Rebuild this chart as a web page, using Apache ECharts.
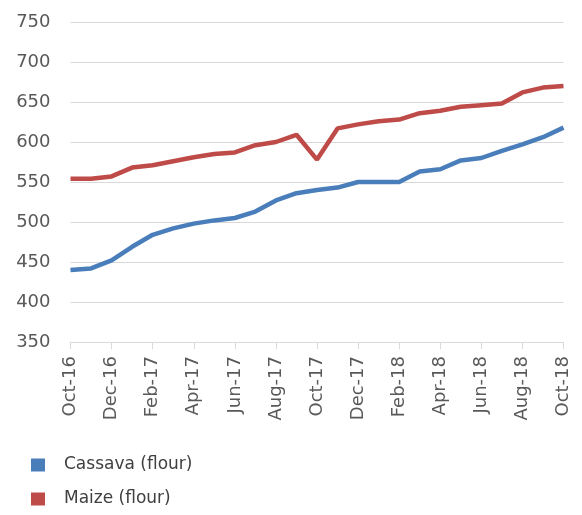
<!DOCTYPE html>
<html>
<head>
<meta charset="utf-8">
<script src="https://cdn.jsdelivr.net/npm/echarts@6/dist/echarts.min.js"></script>
<style>
  html, body { margin: 0; padding: 0; background: #fff; }
  #chart { width: 582px; height: 515px; }
</style>
</head>
<body>
<div id="chart"></div>
<script>
// Monthly prices, Oct-16 .. Oct-18
const months = ['Oct-16', 'Nov-16', 'Dec-16', 'Jan-17', 'Feb-17', 'Mar-17', 'Apr-17', 'May-17', 'Jun-17',
    'Jul-17', 'Aug-17', 'Sep-17', 'Oct-17', 'Nov-17', 'Dec-17', 'Jan-18', 'Feb-18', 'Mar-18', 'Apr-18',
    'May-18', 'Jun-18', 'Jul-18', 'Aug-18', 'Sep-18', 'Oct-18'];
const cassava = [440, 442, 452, 469, 484, 492, 498, 502, 505, 513, 527, 536, 540, 543, 550, 550, 550, 563, 566, 577, 580, 589, 597, 606, 618];
const maize = [554, 554, 557, 568, 571, 576, 581, 585, 587, 596, 600, 609, 578, 617, 622, 626, 628, 636, 639, 644, 646, 648, 662, 668, 670];
const seriesNames = ['Cassava (flour)', 'Maize (flour)'];
const seriesColors = ['#4A7EBB', '#BE4B48'];

document.addEventListener('DOMContentLoaded', function() {
    const chart = echarts.init(document.getElementById('chart'));
    const font = '"DejaVu Sans", sans-serif';

    chart.setOption({
        animation: false,
        color: seriesColors,
        grid: { left: 70.5, right: 18.5, top: 22, bottom: 173 },
        legend: {
            orient: 'vertical',
            left: 31,
            top: 456,
            padding: 0,
            icon: 'rect',
            itemWidth: 14,
            itemHeight: 13,
            itemGap: 16,
            data: seriesNames,
            textStyle: { fontFamily: font, fontSize: 17, lineHeight: 18, color: '#404040', padding: [0, 0, 0, 14] }
        },
        xAxis: {
            type: 'category',
            data: months,
            boundaryGap: false,
            axisLine: { lineStyle: { color: '#d9d9d9' } },
            axisTick: { interval: 1, length: 7, lineStyle: { color: '#d9d9d9' } },
            axisLabel: {
                interval: 1,
                rotate: 90,
                margin: 14,
                fontFamily: font,
                fontSize: 18,
                color: '#595959'
            }
        },
        yAxis: {
            type: 'value',
            min: 350,
            max: 750,
            interval: 50,
            axisLine: { show: false },
            axisTick: { show: false },
            splitLine: { lineStyle: { color: '#d9d9d9' } },
            axisLabel: { fontFamily: font, fontSize: 18, color: '#595959', margin: 20 }
        },
        series: [
            {
                name: seriesNames[0],
                type: 'line',
                data: cassava,
                showSymbol: false,
                lineStyle: { width: 4.5 }
            },
            {
                name: seriesNames[1],
                type: 'line',
                data: maize,
                showSymbol: false,
                lineStyle: { width: 4.5 }
            }
        ]
    });
});
</script>
</body>
</html>
